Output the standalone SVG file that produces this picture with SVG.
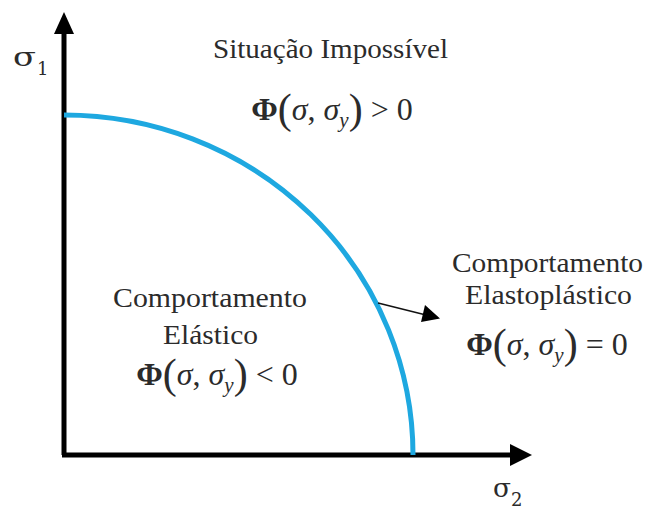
<svg xmlns="http://www.w3.org/2000/svg" width="648" height="511" viewBox="0 0 648 511">
<style>
.t{font-family:"Liberation Serif","DejaVu Serif",serif;fill:#2b2b2b;}
.lbl{font-size:27px;}
.eq{font-size:32px;}
.it{font-style:italic;}
.b{font-weight:bold;}
.par{font-size:42px;}
.sub{font-size:21px;font-style:italic;}
.ax{font-family:"DejaVu Serif",serif;fill:#2b2b2b;}
</style>
<rect width="648" height="511" fill="#fff"/>
<g id="axes">
<path d="M64,455 V30" stroke="#000" stroke-width="5" fill="none"/>
<path d="M54,34 L64,12 L74,34 Z" fill="#000"/>
<path d="M62,455 H512" stroke="#000" stroke-width="5" fill="none"/>
<path d="M510,444 L532,455 L510,466 Z" fill="#000"/>
</g>
<g id="curve">
<path d="M64,115 A349,340 0 0 1 413,455" stroke="#1ea8e0" stroke-width="5" fill="none"/>
</g>
<g id="connectors">
<path d="M378,303 L438,318" stroke="#111" stroke-width="1.5" fill="none"/>
<path d="M440,318.5 L421,322 L425,305 Z" fill="#000"/>
</g>
<g id="sigma1">
<text class="ax" x="13" y="66" font-size="26" textLength="23" lengthAdjust="spacingAndGlyphs">σ</text>
<text class="ax" x="37" y="75" font-size="18">1</text>
</g>
<g id="sigma2">
<text class="ax" x="493" y="497" font-size="26" textLength="18" lengthAdjust="spacingAndGlyphs">σ</text>
<text class="ax" x="511" y="506" font-size="18">2</text>
</g>
<g id="impossivel">
<text class="t lbl" x="213" y="58" textLength="235" lengthAdjust="spacingAndGlyphs">Situação Impossível</text>
<text class="t eq" x="332" y="120" text-anchor="middle"><tspan class="b">Φ</tspan><tspan class="par" dy="3">(</tspan><tspan class="it" dy="-3">σ</tspan>, <tspan class="it">σ</tspan><tspan class="sub" dy="7">y</tspan><tspan class="par" dy="-4">)</tspan><tspan dy="-3"> &gt; 0</tspan></text>
</g>
<g id="elastico">
<text class="t lbl" x="113" y="307" textLength="194" lengthAdjust="spacingAndGlyphs">Comportamento</text>
<text class="t lbl" x="163" y="344" textLength="95" lengthAdjust="spacingAndGlyphs">Elástico</text>
<text class="t eq" x="217" y="385" text-anchor="middle"><tspan class="b">Φ</tspan><tspan class="par" dy="3">(</tspan><tspan class="it" dy="-3">σ</tspan>, <tspan class="it">σ</tspan><tspan class="sub" dy="7">y</tspan><tspan class="par" dy="-4">)</tspan><tspan dy="-3"> &lt; 0</tspan></text>
</g>
<g id="elastoplastico">
<text class="t lbl" x="452" y="272" textLength="191" lengthAdjust="spacingAndGlyphs">Comportamento</text>
<text class="t lbl" x="465" y="304" textLength="167" lengthAdjust="spacingAndGlyphs">Elastoplástico</text>
<text class="t eq" x="547" y="355" text-anchor="middle"><tspan class="b">Φ</tspan><tspan class="par" dy="3">(</tspan><tspan class="it" dy="-3">σ</tspan>, <tspan class="it">σ</tspan><tspan class="sub" dy="7">y</tspan><tspan class="par" dy="-4">)</tspan><tspan dy="-3"> = 0</tspan></text>
</g>
</svg>
